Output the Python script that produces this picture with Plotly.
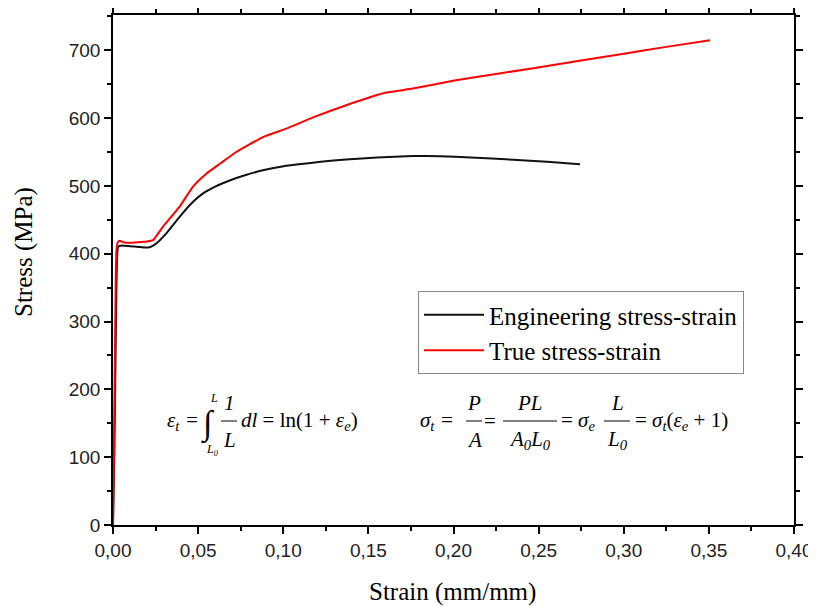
import plotly.graph_objects as go

# Engineering stress-strain (strain mm/mm, stress MPa)
eng_strain = [0.0, 0.0008, 0.0015, 0.002, 0.0025, 0.003, 0.005, 0.01, 0.015, 0.019, 0.022, 0.0254,
              0.0313, 0.039, 0.046, 0.0529, 0.06, 0.0685, 0.078, 0.088, 0.0977, 0.1077, 0.122, 0.137,
              0.155, 0.176, 0.192, 0.21, 0.235, 0.255, 0.2743]
eng_stress = [0, 110, 250, 350, 400, 410, 412, 411, 410, 409, 410, 415,
              430, 454, 474, 489, 499, 508, 516, 523, 528, 531.5, 535.5, 539,
              542, 544, 543.8, 542, 538.5, 535.5, 532]

# True stress-strain
true_strain = [0.0, 0.0006, 0.0012, 0.0016, 0.002, 0.0028, 0.004, 0.006, 0.01, 0.015, 0.02, 0.0235,
               0.0294, 0.039, 0.047, 0.0548, 0.063, 0.0724, 0.0881, 0.1018, 0.1175, 0.137,
               0.1605, 0.176, 0.1997, 0.225, 0.2704, 0.30, 0.325, 0.3507]
true_stress = [0, 120, 270, 360, 405, 417, 419, 417, 416, 417, 418, 420,
               440, 469, 499, 518, 533, 550, 572, 584.5, 601, 619,
               637.6, 643.5, 655, 665, 683, 695, 705, 714.7]

x_ticks = [0.0, 0.05, 0.10, 0.15, 0.20, 0.25, 0.30, 0.35, 0.40]
y_ticks = [0, 100, 200, 300, 400, 500, 600, 700]

# page has an 8px body margin; figure is sized to fit the 816x607 window
OFF = 8
W, H = 816 - OFF, 607 - OFF
L, R, T, B = 113 - OFF, 22, 15 - OFF, 82
PW, PH = W - L - R, H - T - B

def px(x):
    return (x - OFF - L) / PW

def py(y):
    return (H - B - (y - OFF)) / PH

fig = go.Figure()
fig.add_trace(go.Scatter(x=eng_strain, y=eng_stress, mode="lines", name="Engineering stress-strain",
                         line=dict(color="#111111", width=2, shape="spline", smoothing=0.4)))
fig.add_trace(go.Scatter(x=true_strain, y=true_stress, mode="lines", name="True stress-strain",
                         line=dict(color="#ff0000", width=2, shape="spline", smoothing=0.4)))

serif = "Liberation Serif, Times New Roman, serif"
sans = "Liberation Sans, Arial, sans-serif"

annotations = []
shapes = []

def txt(x, y, s, size=21, xanchor="center", italic=True, angle=0):
    if italic:
        s = "<i>" + s + "</i>"
    annotations.append(dict(xref="paper", yref="paper", x=px(x), y=py(y), text=s, showarrow=False,
                            xanchor=xanchor, yanchor="middle", textangle=angle,
                            font=dict(family=serif, size=size, color="black")))

def frac(xc, num, den, half, yb=421, size=21):
    txt(xc, yb - 18, num, size)
    txt(xc, yb + 19, den, size)
    shapes.append(dict(type="line", xref="paper", yref="paper", x0=px(xc - half), x1=px(xc + half),
                       y0=py(yb), y1=py(yb), line=dict(color="black", width=1)))

# Axis titles
txt(452, 592, "Strain (mm/mm)", size=25, italic=False)
txt(24, 252, "Stress (MPa)", size=25, italic=False, angle=-90)

# Equation 1
txt(165, 421, "ε<sub>t</sub> =", xanchor="left")
txt(208, 424, "∫", size=34)
txt(214, 398, "L", size=12)
txt(212, 450, "L<sub>0</sub>", size=12)
frac(229, "1", "L", 8)
txt(239, 421, "dl</i> = ln(1 + <i>ε<sub>e</sub></i>)<i>", xanchor="left")

# Equation 2
txt(418, 421, "σ<sub>t</sub> =", xanchor="left")
frac(474, "P", "A", 8)
txt(490, 421, "=", italic=False)
frac(530, "PL", "A<sub>0</sub>L<sub>0</sub>", 27)
txt(559, 421, "</i>= <i>σ<sub>e</sub>", xanchor="left")
frac(617, "L", "L<sub>0</sub>", 13)
txt(633, 421, "</i>= <i>σ<sub>t</sub></i>(<i>ε<sub>e</sub></i> + 1)<i>", xanchor="left")

axis_common = dict(showline=True, linecolor="black", linewidth=1.5, mirror="allticks",
                   ticks="outside", ticklen=7, tickwidth=1.5, tickcolor="black",
                   showgrid=False, zeroline=False, automargin=False,
                   tickfont=dict(family=sans, size=19, color="#222222"))

fig.update_layout(
    width=W, height=H,
    margin=dict(l=L, r=R, t=T, b=B),
    plot_bgcolor="white", paper_bgcolor="white",
    separators=",.",
    showlegend=True,
    legend=dict(x=px(418), y=py(291), xanchor="left", yanchor="top",
                bordercolor="#888888", borderwidth=1, bgcolor="white",
                font=dict(family=serif, size=25, color="black"),
                itemwidth=60, tracegroupgap=0),
    xaxis=dict(range=[0, 0.40], tickvals=x_ticks, tickformat=".2f",
               minor=dict(ticks="outside", dtick=0.025, ticklen=4, tickwidth=1.5, tickcolor="black"),
               **axis_common),
    yaxis=dict(range=[0, 752], tickvals=y_ticks,
               minor=dict(ticks="outside", dtick=50, ticklen=4, tickwidth=1.5, tickcolor="black"),
               **axis_common),
    annotations=annotations,
    shapes=shapes,
)

fig.write_html("out.html")
